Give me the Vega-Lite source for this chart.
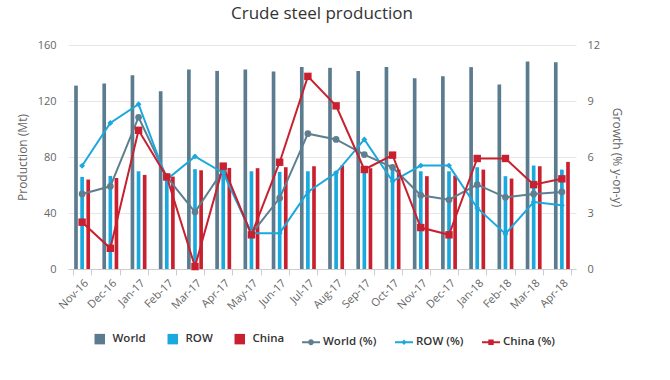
{
  "$schema": "https://vega.github.io/schema/vega-lite/v6.json",
  "width": 508,
  "height": 224,
  "autosize": {"type": "none"},
  "padding": {"left": 68, "top": 45, "right": 94, "bottom": 111},
  "background": "white",
  "config": {"font": "Open Sans", "view": {"stroke": null}},
  "title": {"text": "Crude steel production", "fontSize": 17, "font": "Open Sans", "fontWeight": "normal", "color": "#333333", "offset": 16},
  "data": {"values": [
    {"month": "Nov-16", "World": 131, "ROW": 65.8, "China": 63.9, "World (%)": 4.02, "ROW (%)": 5.53, "China (%)": 2.51},
    {"month": "Dec-16", "World": 132.5, "ROW": 66.5, "China": 65, "World (%)": 4.43, "ROW (%)": 7.82, "China (%)": 1.11},
    {"month": "Jan-17", "World": 138.4, "ROW": 69.8, "China": 67.2, "World (%)": 8.13, "ROW (%)": 8.83, "China (%)": 7.43},
    {"month": "Feb-17", "World": 127, "ROW": 67, "China": 66, "World (%)": 4.93, "ROW (%)": 4.79, "China (%)": 4.93},
    {"month": "Mar-17", "World": 142.5, "ROW": 71.3, "China": 70.5, "World (%)": 3.05, "ROW (%)": 6.03, "China (%)": 0.13},
    {"month": "Apr-17", "World": 141.5, "ROW": 71, "China": 72.2, "World (%)": 5.3, "ROW (%)": 5.15, "China (%)": 5.51},
    {"month": "May-17", "World": 142.5, "ROW": 69.8, "China": 72, "World (%)": 1.88, "ROW (%)": 1.92, "China (%)": 1.83},
    {"month": "Jun-17", "World": 141, "ROW": 69.4, "China": 72.7, "World (%)": 3.8, "ROW (%)": 1.92, "China (%)": 5.72},
    {"month": "Jul-17", "World": 144.2, "ROW": 69.8, "China": 73.4, "World (%)": 7.25, "ROW (%)": 4.13, "China (%)": 10.32},
    {"month": "Aug-17", "World": 143.7, "ROW": 70, "China": 73.9, "World (%)": 6.94, "ROW (%)": 5.15, "China (%)": 8.74},
    {"month": "Sep-17", "World": 141.5, "ROW": 70, "China": 72, "World (%)": 6.13, "ROW (%)": 6.94, "China (%)": 5.33},
    {"month": "Oct-17", "World": 144.2, "ROW": 71, "China": 71, "World (%)": 5.45, "ROW (%)": 4.7, "China (%)": 6.1},
    {"month": "Nov-17", "World": 136.3, "ROW": 69.8, "China": 66.3, "World (%)": 3.95, "ROW (%)": 5.54, "China (%)": 2.22},
    {"month": "Dec-17", "World": 137.7, "ROW": 69.8, "China": 66.7, "World (%)": 3.71, "ROW (%)": 5.54, "China (%)": 1.83},
    {"month": "Jan-18", "World": 144.2, "ROW": 72.7, "China": 71, "World (%)": 4.52, "ROW (%)": 3.27, "China (%)": 5.92},
    {"month": "Feb-18", "World": 131.8, "ROW": 66.3, "China": 64.6, "World (%)": 3.84, "ROW (%)": 1.88, "China (%)": 5.92},
    {"month": "Mar-18", "World": 148.3, "ROW": 73.9, "China": 73.4, "World (%)": 4.02, "ROW (%)": 3.59, "China (%)": 4.52},
    {"month": "Apr-18", "World": 147.6, "ROW": 71, "China": 76.5, "World (%)": 4.13, "ROW (%)": 3.41, "China (%)": 4.83}
  ]},
  "layer": [
    {
      "transform": [{"fold": ["World", "ROW", "China"], "as": ["series", "value"]}],
      "mark": {"type": "bar"},
      "encoding": {
        "x": {"field": "month", "type": "nominal", "sort": null,
          "scale": {"paddingInner": 0.35, "paddingOuter": 0.175},
          "axis": {"title": null, "labelAngle": -45, "labelColor": "#666666", "labelFontSize": 11, "domainColor": "#cccccc", "tickColor": "#cccccc", "tickSize": 6, "tickBand": "extent", "labelPadding": 2, "grid": false}},
        "xOffset": {"field": "series", "sort": ["World", "ROW", "China"], "scale": {"paddingInner": 0.4, "paddingOuter": 0.2}},
        "y": {"field": "value", "type": "quantitative", "scale": {"domain": [0, 160]},
          "axis": {"title": "Production (Mt)", "values": [0, 40, 80, 120, 160], "grid": true, "gridColor": "#e6e6e6", "domain": false, "ticks": false, "labelPadding": 12, "labelColor": "#666666", "labelFontSize": 11, "titleColor": "#666666", "titleFontWeight": "normal", "titleFontSize": 12, "titlePadding": 8}},
        "fill": {"field": "series", "type": "nominal",
          "scale": {"domain": ["World", "ROW", "China"], "range": ["#5b7b8e", "#1aa9df", "#c9202f"]},
          "legend": {"orient": "none", "legendX": 26, "legendY": 288, "direction": "horizontal", "title": null, "symbolType": "square", "symbolSize": 110, "symbolStrokeWidth": 0, "labelFont": "Open Sans", "labelFontSize": 11.5, "labelFontWeight": 600, "labelColor": "#333333", "columnPadding": 21, "labelOffset": 7, "padding": 0}}
      }
    },
    {
      "transform": [{"fold": ["World (%)", "ROW (%)", "China (%)"], "as": ["series", "pct"]}],
      "encoding": {
        "x": {"field": "month", "type": "nominal", "sort": null, "bandPosition": 0.5},
        "y": {"field": "pct", "type": "quantitative", "scale": {"domain": [0, 12]},
          "axis": {"orient": "right", "title": "Growth (% y-on-y)", "values": [0, 3, 6, 9, 12], "grid": false, "domain": false, "ticks": false, "labelPadding": 11, "labelColor": "#666666", "labelFontSize": 11, "titleColor": "#666666", "titleFontWeight": "normal", "titleFontSize": 12, "titlePadding": 10}},
        "color": {"field": "series", "type": "nominal",
          "scale": {"domain": ["World (%)", "ROW (%)", "China (%)"], "range": ["#5e7f90", "#1ca8dc", "#c8202f"]},
          "legend": {"orient": "none", "legendX": 234, "legendY": 288, "direction": "horizontal", "title": null, "symbolSize": 324, "labelFont": "Open Sans", "labelFontSize": 11.5, "labelFontWeight": 600, "labelColor": "#333333", "columnPadding": 18, "labelOffset": 3, "padding": 0,
            "encode": {"symbols": {"update": {
              "shape": {"signal": "datum.value === 'World (%)' ? 'M-1,-0.1H1V0.1H-1Z M0.32,0A0.32,0.32 0 1,1 -0.32,0A0.32,0.32 0 1,1 0.32,0Z' : datum.value === 'ROW (%)' ? 'M-1,-0.1H1V0.1H-1Z M0,-0.3L0.3,0L0,0.3L-0.3,0Z' : 'M-1,-0.1H1V0.1H-1Z M-0.3,-0.3H0.3V0.3H-0.3Z'"},
              "fill": {"scale": "color", "field": "value"},
              "stroke": {"value": "transparent"},
              "strokeWidth": {"value": 0},
              "opacity": {"value": 1}
            }}}}}
      },
      "layer": [
        {"mark": {"type": "line", "strokeWidth": 2}},
        {"transform": [{"filter": "datum.series === 'World (%)'"}],
         "mark": {"type": "point", "filled": true, "opacity": 1, "size": 45, "shape": "circle"}},
        {"transform": [{"filter": "datum.series === 'ROW (%)'"}],
         "mark": {"type": "point", "filled": true, "opacity": 1, "size": 35, "shape": "diamond"}},
        {"transform": [{"filter": "datum.series === 'China (%)'"}],
         "mark": {"type": "point", "filled": true, "opacity": 1, "size": 55, "shape": "square"}}
      ]
    }
  ],
  "resolve": {"scale": {"y": "independent"}}
}
